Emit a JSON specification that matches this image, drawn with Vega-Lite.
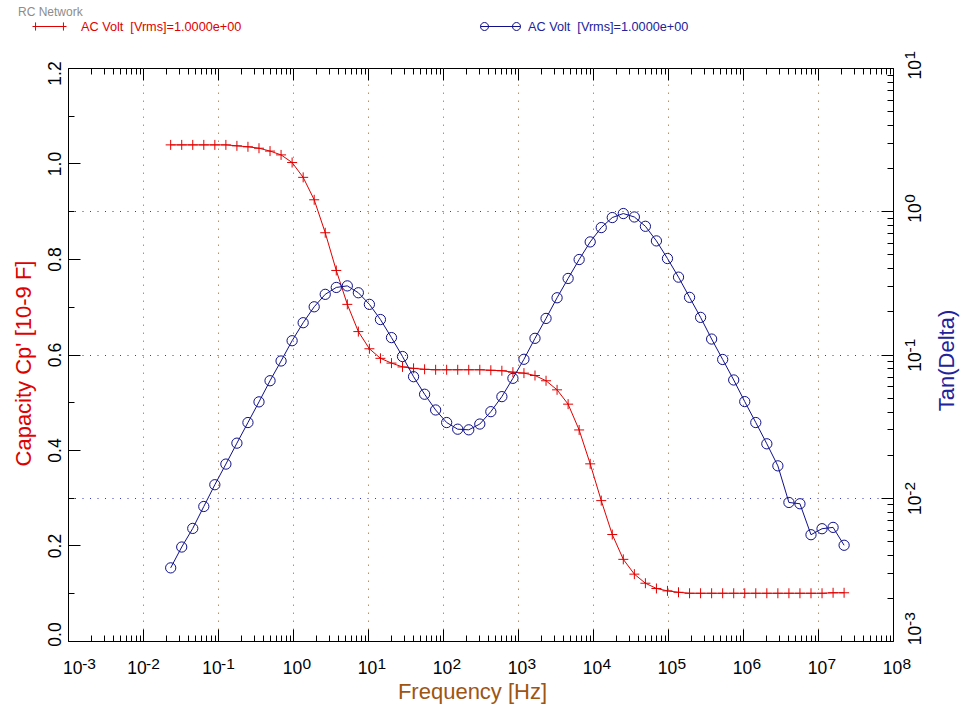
{
  "$schema": "https://vega.github.io/schema/vega-lite/v6.json",
  "width": 825,
  "height": 573,
  "autosize": {"type": "none"},
  "padding": {"left": 68, "top": 68, "right": 71, "bottom": 69},
  "background": "white",
  "title": {"text": "RC Network", "anchor": "start", "orient": "top", "frame": "group", "offset": 0, "dx": -50, "dy": 13, "fontSize": 12, "font": "Liberation Sans", "fontWeight": "normal", "color": "#8c8c8c"},
  "data": {"values": [
    {"f": 0.02339, "cap": 1.039, "tan": 0.00324},
    {"f": 0.03283, "cap": 1.039, "tan": 0.00453},
    {"f": 0.04607, "cap": 1.039, "tan": 0.00611},
    {"f": 0.06466, "cap": 1.039, "tan": 0.00869},
    {"f": 0.09074, "cap": 1.039, "tan": 0.01233},
    {"f": 0.1274, "cap": 1.039, "tan": 0.01718},
    {"f": 0.1787, "cap": 1.037, "tan": 0.02405},
    {"f": 0.2508, "cap": 1.035, "tan": 0.0335},
    {"f": 0.3521, "cap": 1.032, "tan": 0.0467},
    {"f": 0.4941, "cap": 1.026, "tan": 0.0656},
    {"f": 0.6934, "cap": 1.018, "tan": 0.0901},
    {"f": 0.9732, "cap": 1.002, "tan": 0.1248},
    {"f": 1.366, "cap": 0.971, "tan": 0.1667},
    {"f": 1.917, "cap": 0.924, "tan": 0.2153},
    {"f": 2.69, "cap": 0.855, "tan": 0.263},
    {"f": 3.776, "cap": 0.776, "tan": 0.2938},
    {"f": 5.299, "cap": 0.705, "tan": 0.3013},
    {"f": 7.436, "cap": 0.648, "tan": 0.2698},
    {"f": 10.44, "cap": 0.612, "tan": 0.2239},
    {"f": 14.65, "cap": 0.592, "tan": 0.1754},
    {"f": 20.56, "cap": 0.582, "tan": 0.1312},
    {"f": 28.86, "cap": 0.574, "tan": 0.0968},
    {"f": 40.5, "cap": 0.571, "tan": 0.07},
    {"f": 56.84, "cap": 0.569, "tan": 0.0528},
    {"f": 79.77, "cap": 0.568, "tan": 0.041},
    {"f": 111.9, "cap": 0.568, "tan": 0.0335},
    {"f": 157.1, "cap": 0.568, "tan": 0.0301},
    {"f": 220.5, "cap": 0.568, "tan": 0.0298},
    {"f": 309.5, "cap": 0.568, "tan": 0.0327},
    {"f": 434.3, "cap": 0.567, "tan": 0.0399},
    {"f": 609.5, "cap": 0.566, "tan": 0.0508},
    {"f": 855.4, "cap": 0.563, "tan": 0.0682},
    {"f": 1200, "cap": 0.561, "tan": 0.0926},
    {"f": 1685, "cap": 0.556, "tan": 0.1297},
    {"f": 2365, "cap": 0.545, "tan": 0.1786},
    {"f": 3319, "cap": 0.526, "tan": 0.2489},
    {"f": 4658, "cap": 0.496, "tan": 0.3396},
    {"f": 6537, "cap": 0.442, "tan": 0.4603},
    {"f": 9175, "cap": 0.371, "tan": 0.6109},
    {"f": 12880, "cap": 0.294, "tan": 0.7691},
    {"f": 18070, "cap": 0.223, "tan": 0.9036},
    {"f": 25360, "cap": 0.171, "tan": 0.9638},
    {"f": 35600, "cap": 0.14, "tan": 0.912},
    {"f": 49960, "cap": 0.121, "tan": 0.7852},
    {"f": 70110, "cap": 0.11, "tan": 0.6209},
    {"f": 98400, "cap": 0.105, "tan": 0.4677},
    {"f": 138100, "cap": 0.102, "tan": 0.3467},
    {"f": 193800, "cap": 0.1, "tan": 0.2506},
    {"f": 272000, "cap": 0.1, "tan": 0.1816},
    {"f": 381800, "cap": 0.1, "tan": 0.1282},
    {"f": 535800, "cap": 0.1, "tan": 0.0923},
    {"f": 752000, "cap": 0.1, "tan": 0.0664},
    {"f": 1055000, "cap": 0.1, "tan": 0.0469},
    {"f": 1481000, "cap": 0.1, "tan": 0.0335},
    {"f": 2079000, "cap": 0.1, "tan": 0.0238},
    {"f": 2917000, "cap": 0.1, "tan": 0.0167},
    {"f": 4094000, "cap": 0.1, "tan": 0.00927},
    {"f": 5746000, "cap": 0.1, "tan": 0.00908},
    {"f": 8064000, "cap": 0.1, "tan": 0.00552},
    {"f": 11320000, "cap": 0.1, "tan": 0.00608},
    {"f": 15890000, "cap": 0.101, "tan": 0.00621},
    {"f": 22290000, "cap": 0.101, "tan": 0.00466}
  ]},
  "layer": [
    {
      "mark": {"type": "line", "strokeWidth": 1, "clip": true,
        "point": {"shape": "M-1,0H1M0,-1V1", "filled": false, "size": 100, "strokeWidth": 1, "stroke": "#e00000", "fill": null}},
      "encoding": {
        "x": {"field": "f", "type": "quantitative",
          "scale": {"type": "log", "domain": [0.001, 100000000], "nice": false},
          "axis": {
            "orient": "bottom",
            "values": [0.001,0.002,0.003,0.004,0.005,0.006,0.007,0.008,0.009,0.01,0.02,0.03,0.04,0.05,0.06,0.07,0.08,0.09,0.1,0.2,0.3,0.4,0.5,0.6,0.7,0.8,0.9,1,2,3,4,5,6,7,8,9,10,20,30,40,50,60,70,80,90,100,200,300,400,500,600,700,800,900,1000,2000,3000,4000,5000,6000,7000,8000,9000,10000,20000,30000,40000,50000,60000,70000,80000,90000,100000,200000,300000,400000,500000,600000,700000,800000,900000,1000000,2000000,3000000,4000000,5000000,6000000,7000000,8000000,9000000,10000000,20000000,30000000,40000000,50000000,60000000,70000000,80000000,90000000,100000000],
            "domain": false,
            "tickColor": "#000000",
            "tickWidth": 1,
            "tickSize": {"condition": {"test": "indexof([0.001,0.01,0.1,1,10,100,1000,10000,100000,1000000,10000000,100000000], datum.value) >= 0", "value": -12}, "value": -6},
            "grid": true,
            "gridColor": "#c09060",
            "gridDash": [1.5, 6.5],
            "gridWidth": 1,
            "gridOpacity": {"condition": {"test": "indexof([0.01,0.1,1,10,100,1000,10000,100000,1000000,10000000], datum.value) >= 0", "value": 1}, "value": 0},
            "labelExpr": "indexof([0.001,0.01,0.1,1,10,100,1000,10000,100000,1000000,10000000,100000000], datum.value) >= 0 ? '10' : ''",
            "labelFont": "Liberation Sans",
            "labelFontSize": 17.5,
            "labelColor": "#000000",
            "labelAngle": 0,
            "labelAlign": "center",
            "labelBaseline": "top",
            "labelPadding": 30,
            "labelOffset": {"condition": [{"test": "datum.value < 0.002", "value": 4.2}, {"test": "datum.value < 0.9", "value": -6.5}], "value": -1},
            "labelOverlap": false,
            "labelBound": false,
            "labelFlush": false,
            "title": "Frequency [Hz]",
            "titleFont": "Liberation Sans",
            "titleFontSize": 22,
            "titleFontWeight": "normal",
            "titleColor": "#9e5512",
            "titleX": 404,
            "titleY": 57,
            "titleAlign": "center",
            "titleBaseline": "alphabetic",
            "titleAngle": 0
          }
        },
        "y": {"field": "cap", "type": "quantitative",
          "scale": {"domain": [0, 1.2], "nice": false, "zero": false},
          "axis": {
            "orient": "left",
            "values": [0,0.1,0.2,0.3,0.4,0.5,0.6,0.7,0.8,0.9,1,1.1,1.2],
            "domain": false,
            "tickColor": "#000000",
            "tickWidth": 1,
            "tickSize": {"condition": {"test": "indexof([0,0.2,0.4,0.6,0.8,1,1.2], datum.value) >= 0", "value": -12}, "value": -6},
            "grid": false,
            "labelExpr": "indexof([0,0.2,0.4,0.6,0.8,1,1.2], datum.value) >= 0 ? format(datum.value, '.1f') : ''",
            "labelFont": "Liberation Sans",
            "labelFontSize": 17.5,
            "labelColor": "#000000",
            "labelAngle": -90,
            "labelAlign": "center",
            "labelBaseline": "alphabetic",
            "labelPadding": 20,
            "labelOffset": {"condition": [{"test": "datum.value < 0.05", "value": -7}, {"test": "datum.value > 1.15", "value": 5}], "value": 0},
            "labelOverlap": false,
            "labelBound": false,
            "labelFlush": false,
            "title": "Capacity Cp' [10-9 F]",
            "titleFont": "Liberation Sans",
            "titleFontSize": 22,
            "titleFontWeight": "normal",
            "titleColor": "#e00000",
            "titleAngle": -90,
            "titleX": -38,
            "titleY": 295,
            "titleAlign": "center",
            "titleBaseline": "alphabetic"
          }
        },
        "stroke": {"datum": "cp", "scale": {"range": ["#e00000"]},
          "legend": {"orient": "none", "legendX": -36, "legendY": -59, "title": null, "padding": 0,
            "labelExpr": "'AC Volt \u00a0[Vrms]=1.0000e+00'", "labelLimit": 400,
            "symbolType": "M-1,0H1M-0.82,-0.24V0.24M0.82,-0.24V0.24", "symbolSize": 1156, "symbolStrokeWidth": 1, "symbolFillColor": "transparent",
            "labelColor": "#e00000", "labelFont": "Liberation Sans", "labelFontSize": 12.7, "labelOffset": 14}
        }
      }
    },
    {
      "layer": [
        {
          "mark": {"type": "line", "strokeWidth": 1, "clip": true},
          "encoding": {
            "x": {"field": "f", "type": "quantitative",
              "scale": {"type": "log", "domain": [0.001, 100000000], "nice": false},
              "axis": {
                "orient": "top",
                "values": [0.001,0.002,0.003,0.004,0.005,0.006,0.007,0.008,0.009,0.01,0.02,0.03,0.04,0.05,0.06,0.07,0.08,0.09,0.1,0.2,0.3,0.4,0.5,0.6,0.7,0.8,0.9,1,2,3,4,5,6,7,8,9,10,20,30,40,50,60,70,80,90,100,200,300,400,500,600,700,800,900,1000,2000,3000,4000,5000,6000,7000,8000,9000,10000,20000,30000,40000,50000,60000,70000,80000,90000,100000,200000,300000,400000,500000,600000,700000,800000,900000,1000000,2000000,3000000,4000000,5000000,6000000,7000000,8000000,9000000,10000000,20000000,30000000,40000000,50000000,60000000,70000000,80000000,90000000,100000000],
                "domain": false,
                "tickColor": "#000000",
                "tickWidth": 1,
                "tickSize": {"condition": {"test": "indexof([0.001,0.01,0.1,1,10,100,1000,10000,100000,1000000,10000000,100000000], datum.value) >= 0", "value": -12}, "value": -6},
                "grid": false,
                "labels": false,
                "title": null
              }
            },
            "y": {"field": "tan", "type": "quantitative",
              "scale": {"type": "log", "domain": [0.001, 10], "nice": false},
              "axis": {
                "orient": "right",
                "values": [0.001,0.002,0.003,0.004,0.005,0.006,0.007,0.008,0.009,0.01,0.02,0.03,0.04,0.05,0.06,0.07,0.08,0.09,0.1,0.2,0.3,0.4,0.5,0.6,0.7,0.8,0.9,1,2,3,4,5,6,7,8,9,10],
                "domain": false,
                "tickColor": "#000000",
                "tickWidth": 1,
                "tickSize": {"condition": {"test": "indexof([0.001,0.01,0.1,1,10], datum.value) >= 0", "value": -12}, "value": -6},
                "grid": true,
                "gridColor": "#3535c8",
                "gridDash": [1, 6.5],
                "gridWidth": 1,
                "gridOpacity": {"condition": {"test": "indexof([0.01,0.1,1], datum.value) >= 0", "value": 1}, "value": 0},
                "labelExpr": "indexof([0.001,0.01,0.1,1,10], datum.value) >= 0 ? '10' : ''",
                "labelFont": "Liberation Sans",
                "labelFontSize": 17.5,
                "labelColor": "#000000",
                "labelAngle": -90,
                "labelAlign": "center",
                "labelBaseline": "top",
                "labelPadding": 25,
                "labelOffset": {"condition": [{"test": "datum.value < 0.002", "value": -6}, {"test": "datum.value < 0.9", "value": 7}], "value": 1.3},
                "labelOverlap": false,
                "labelBound": false,
                "labelFlush": false,
                "title": "Tan(Delta)",
                "titleFont": "Liberation Sans",
                "titleFontSize": 22,
                "titleFontWeight": "normal",
                "titleColor": "#22229a",
                "titleAngle": -90,
                "titleX": 60,
                "titleY": 292,
                "titleAlign": "center",
                "titleBaseline": "alphabetic"
              }
            },
            "color": {"datum": "tan", "scale": {"range": ["#10108a"]},
              "legend": {"orient": "none", "legendX": 412, "legendY": -62, "title": null, "padding": 0,
                "labelExpr": "'AC Volt \u00a0[Vrms]=1.0000e+00'", "labelLimit": 400,
                "symbolType": "M-1,0H1M-0.6,0A0.2,0.2,0,1,1,-1,0A0.2,0.2,0,1,1,-0.6,0M1,0A0.2,0.2,0,1,1,0.6,0A0.2,0.2,0,1,1,1,0", "symbolSize": 1600, "symbolStrokeWidth": 1, "symbolFillColor": "transparent",
                "labelColor": "#22229a", "labelFont": "Liberation Sans", "labelFontSize": 12.7, "labelOffset": 7}
            }
          }
        },
        {
          "mark": {"type": "point", "shape": "circle", "filled": false, "size": 105, "strokeWidth": 1, "color": "#10108a", "opacity": 1, "clip": true},
          "encoding": {
            "x": {"field": "f", "type": "quantitative",
              "scale": {"type": "log", "domain": [0.001, 100000000], "nice": false},
              "axis": {
                "orient": "bottom",
                "values": [0.001,0.01,0.1,1,10,100,1000,10000,100000,1000000,10000000,100000000],
                "domain": false,
                "ticks": false,
                "grid": false,
                "labelExpr": "['-3','-2','-1','0','1','2','3','4','5','6','7','8'][round(log(datum.value)/LN10)+3]",
                "labelFont": "Liberation Sans",
                "labelFontSize": 15.5,
                "labelColor": "#000000",
                "labelAngle": 0,
                "labelAlign": "left",
                "labelBaseline": "top",
                "labelPadding": 15,
                "labelOffset": {"condition": [{"test": "datum.value < 0.002", "value": 13.7}, {"test": "datum.value < 0.9", "value": 2.5}], "value": 9},
                "labelOverlap": false,
                "labelBound": false,
                "labelFlush": false,
                "title": null
              }
            },
            "y": {"field": "tan", "type": "quantitative",
              "scale": {"type": "log", "domain": [0.001, 10], "nice": false},
              "axis": {
                "orient": "right",
                "values": [0.001,0.01,0.1,1,10],
                "domain": false,
                "ticks": false,
                "grid": false,
                "labelExpr": "['-3','-2','-1','0','1'][round(log(datum.value)/LN10)+3]",
                "labelFont": "Liberation Sans",
                "labelFontSize": 15.5,
                "labelColor": "#000000",
                "labelAngle": -90,
                "labelAlign": "left",
                "labelBaseline": "top",
                "labelPadding": 9.5,
                "labelOffset": {"condition": [{"test": "datum.value < 0.002", "value": -15.5}, {"test": "datum.value < 0.9", "value": -2.5}], "value": -9},
                "labelOverlap": false,
                "labelBound": false,
                "labelFlush": false,
                "title": null
              }
            }
          }
        }
      ],
      "resolve": {"axis": {"x": "independent", "y": "independent"}}
    }
  ],
  "resolve": {"scale": {"y": "independent"}, "axis": {"x": "independent", "y": "independent"}},
  "config": {
    "font": "Liberation Sans",
    "view": {"stroke": "#000000", "strokeWidth": 1},
    "axis": {"domain": false}
  }
}
